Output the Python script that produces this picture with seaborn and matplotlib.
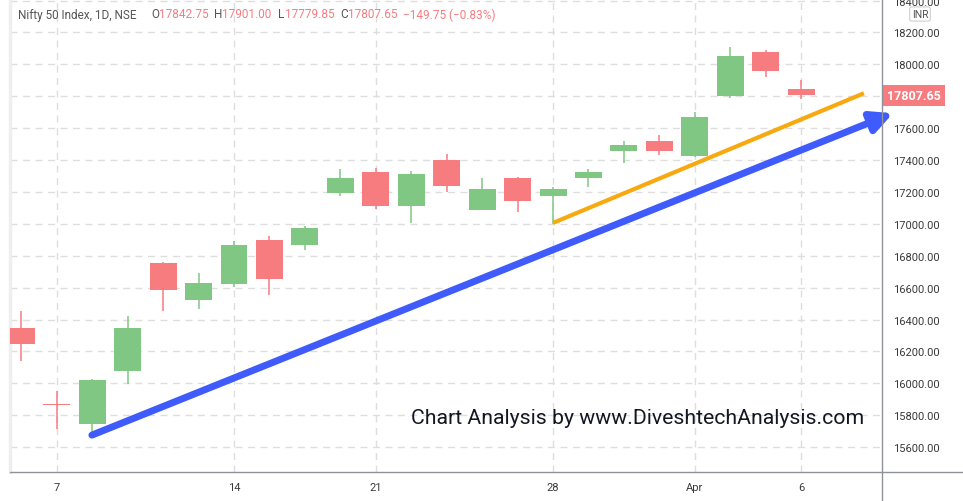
import numpy as np
import pandas as pd
import matplotlib
matplotlib.use("Agg")
import matplotlib.pyplot as plt
from matplotlib.lines import Line2D
import seaborn as sns

# daily candles, Nifty 50, 4 Mar - 6 Apr 2022
dates = ["Mar 4", "Mar 7", "Mar 8", "Mar 9", "Mar 10", "Mar 11", "Mar 14", "Mar 15",
         "Mar 16", "Mar 17", "Mar 21", "Mar 22", "Mar 23", "Mar 24", "Mar 25", "Mar 28",
         "Mar 29", "Mar 30", "Mar 31", "Apr 1", "Apr 4", "Apr 5", "Apr 6"]
opens = [16344, 15868, 15744, 16077, 16756, 16525, 16625, 16900, 16869, 17194, 17325, 17112,
         17400, 17088, 17288, 17175, 17289, 17456, 17519, 17425, 17800, 18075, 17842.75]
highs = [16456, 15950, 16029, 16419, 16758, 16694, 16890, 16925, 16987, 17344, 17350, 17331,
         17438, 17288, 17294, 17231, 17344, 17519, 17556, 17700, 18106, 18088, 17901.00]
lows = [16139, 15712, 15694, 15994, 16452, 16469, 16606, 16556, 16837, 17175, 17094, 17006,
        17200, 17085, 17075, 17000, 17231, 17381, 17431, 17420, 17788, 17919, 17779.85]
closes = [16246, 15864, 16019, 16344, 16588, 16631, 16869, 16656, 16975, 17288, 17112, 17312,
          17238, 17219, 17144, 17219, 17325, 17494, 17456, 17669, 18050, 17957.40, 17807.65]

tick_dates = ["Mar 7", "Mar 14", "Mar 21", "Mar 28", "Apr 1", "Apr 6"]
tick_labels = ["7", "14", "21", "28", "Apr", "6"]
price_ticks = list(range(15600, 18401, 200))

# hand-drawn trend lines (bar index, price)
blue_x = [1.99, 24.59]
blue_y = [15675, 17694]
orange_x = [15.0, 23.77]
orange_y = [17006, 17819]

GREEN = "#81c784"
RED = "#f77c80"
GRID = "#dedede"
TXT = "#3a3a3a"

sns.set_theme(style="white")
plt.rcParams["font.family"] = ["Roboto", "DejaVu Sans"]

df = pd.DataFrame({"date": dates, "open": opens, "high": highs, "low": lows, "close": closes})
df["i"] = np.arange(len(df))
df["up"] = df["close"] >= df["open"]
df["color"] = np.where(df["up"], GREEN, RED)
df["bottom"] = df[["open", "close"]].min(axis=1)
df["height"] = (df["close"] - df["open"]).abs().clip(lower=5)

fig = plt.figure(figsize=(9.63, 5.02), dpi=100)
ax = fig.add_axes([10 / 963, 29 / 502, 872 / 963, 473 / 502])

# wicks then bodies
ax.vlines(df["i"], df["low"], df["high"], colors=df["color"], linewidth=1.1, zorder=2)
ax.bar(df["i"], df["height"], bottom=df["bottom"], width=0.76, color=df["color"],
       linewidth=0, zorder=3)

# trend lines
sns.lineplot(x=orange_x, y=orange_y, color="#f7a90f", linewidth=3.0, ax=ax,
             solid_capstyle="butt", zorder=4)
ax.annotate("", xy=(blue_x[1], blue_y[1]), xytext=(blue_x[0], blue_y[0]),
            arrowprops=dict(arrowstyle="-|>,head_length=0.9,head_width=0.45", color="#3f5bfb",
                            lw=5, mutation_scale=14, shrinkA=0, shrinkB=0, clip_on=False),
            annotation_clip=False, zorder=5)

ax.set_xlim(-0.32, 24.28)
ax.set_ylim(15443.75, 18410)

last = df["close"].iloc[-1]
idx = {d: k for k, d in enumerate(dates)}
ax.set_xticks([idx[d] for d in tick_dates], tick_labels)
# the price tag hides the scale label nearest the last close
hidden = min(price_ticks, key=lambda v: abs(v - last))
ax.set_yticks(price_ticks, ["" if v == hidden else f"{v:.2f}" for v in price_ticks])
ax.yaxis.tick_right()
ax.tick_params(axis="y", length=0, pad=8, labelsize=8, labelcolor=TXT)
ax.tick_params(axis="x", length=0, pad=7, labelsize=8, labelcolor=TXT)
ax.grid(True, color=GRID, linestyle=(0, (5, 4)), linewidth=1)
ax.set_axisbelow(True)
for s in ["top", "right", "bottom"]:
    ax.spines[s].set_visible(False)
ax.spines["left"].set_color("#eeeeee")
ax.spines["left"].set_linewidth(2.5)

# TradingView-style frame lines for the price and time scales
fig.add_artist(Line2D([10 / 963, 1], [29 / 502, 29 / 502], color="#8f929a", lw=1))
fig.add_artist(Line2D([882 / 963, 882 / 963], [0, 1], color="#8f929a", lw=1))

# last price tag
ax.text(1.0 + 5 / 872, last, f"{last:.2f}", transform=ax.get_yaxis_transform(),
        ha="left", va="center", color="white", fontsize=9, fontweight="bold",
        bbox=dict(boxstyle="square,pad=0.32", facecolor=RED, edgecolor="none"), clip_on=False)
fig.text(920 / 963, 1 - 15 / 502, "INR", ha="center", va="center", fontsize=7.5, color="#555555",
         bbox=dict(boxstyle="round,pad=0.2", facecolor="white", edgecolor="#d0d0d0", lw=0.8))

# header legend
o, h, l, c = df["open"].iloc[-1], df["high"].iloc[-1], df["low"].iloc[-1], last
chg = c - df["close"].iloc[-2]
pct = 100 * chg / df["close"].iloc[-2]
hy = 1 - 15 / 502
pieces = [(18, "Nifty 50 Index, 1D, NSE", "#555555"), (151, "O", "#555555"),
          (159, f"{o:.2f}", RED), (214, "H", "#555555"), (222, f"{h:.2f}", RED),
          (278, "L", "#555555"), (285, f"{l:.2f}", RED), (340, "C", "#555555"),
          (348, f"{c:.2f}", RED),
          (403, f"{chg:.2f} ({pct:.2f}%)".replace("-", "\u2212"), RED)]
for px, s, col in pieces:
    fig.text(px / 963, hy, s, ha="left", va="center", fontsize=8.5, color=col)

fig.text(411 / 963, 1 - 419 / 502, "Chart Analysis by www.DiveshtechAnalysis.com",
         ha="left", va="center", fontsize=15.3, color="#131722")

fig.savefig("out.png", dpi=100)
